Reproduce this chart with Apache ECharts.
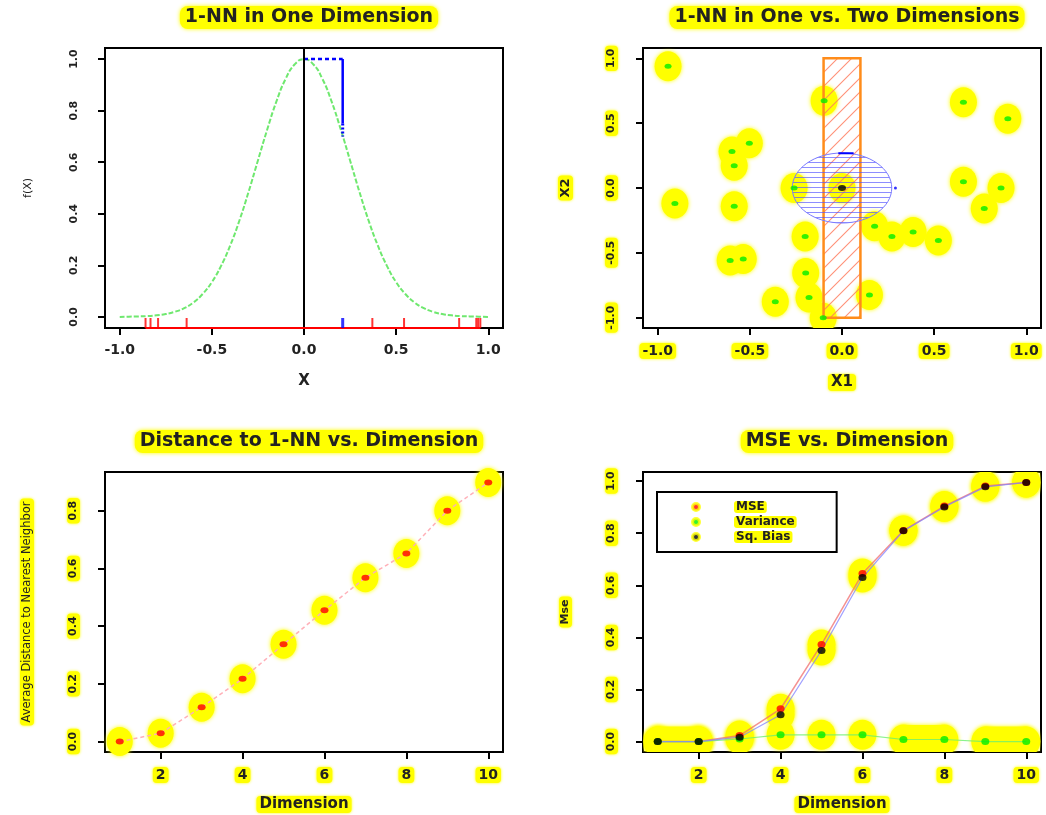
<!DOCTYPE html>
<html><head><meta charset="utf-8">
<script src="https://cdn.jsdelivr.net/npm/echarts@6/dist/echarts.min.js"></script>
<style>html,body{margin:0;padding:0;background:#fff}#c{width:1046px;height:815px}</style>
</head><body><div id="c"></div>
<script>
// ---------- Panel 1: 1-NN in One Dimension ----------
const curveX = [-1.0,-0.95,-0.9,-0.85,-0.8,-0.75,-0.7,-0.65,-0.6,-0.55,-0.5,-0.45,-0.4,-0.35,-0.3,-0.25,-0.2,-0.15,-0.1,-0.05,0,
                0.05,0.1,0.15,0.2,0.25,0.3,0.35,0.4,0.45,0.5,0.55,0.6,0.65,0.7,0.75,0.8,0.85,0.9,0.95,1.0];
const curveY = [0.0,0.001,0.002,0.003,0.006,0.011,0.02,0.034,0.056,0.089,0.135,0.198,0.278,0.375,0.487,0.607,0.726,0.835,0.923,0.98,1.0,
                0.98,0.923,0.835,0.726,0.607,0.487,0.375,0.278,0.198,0.135,0.089,0.056,0.034,0.02,0.011,0.006,0.003,0.002,0.001,0.0];
const rugRed = [-0.86,-0.833,-0.792,-0.637,0.371,0.543,0.842,0.935,0.945,0.957];
const rugBlue = [0.21];
const nnHorizX = [0.0, 0.21];
const nnHorizY = [1.0, 1.0];
const nnVertX = [0.21, 0.21, 0.21];
const nnVertY = [1.0, 0.75, 0.70];
const x1Range = [-1.08, 1.08];
const y1Range = [-0.043, 1.043];
const x1Ticks = [-1.0, -0.5, 0.0, 0.5, 1.0];
const y1Ticks = [0.0, 0.2, 0.4, 0.6, 0.8, 1.0];

// ---------- Panel 2: 1-NN in One vs. Two Dimensions ----------
const ptsX2 = [-0.944,-0.097,0.659,0.90,-0.503,-0.597,-0.585,-0.26,0.659,0.863,-0.907,-0.585,0.772,0.177,-0.20,0.271,0.386,0.523,-0.607,-0.536,-0.197,-0.179,-0.362,0.149,-0.102];
const ptsY2 = [0.94,0.674,0.661,0.534,0.345,0.281,0.172,0.0,0.048,0.0,-0.12,-0.141,-0.159,-0.296,-0.374,-0.374,-0.34,-0.405,-0.56,-0.547,-0.656,-0.845,-0.878,-0.826,-1.0];
const queryPt = [0.0, 0.0];
const slabX = [-0.1, 0.1];
const slabY = [-1.0, 1.0];
const ballR = 0.27;
const blueDashX = [-0.02, 0.063];
const blueDashY = [0.268, 0.268];
const blueDot = [0.29, 0.0];
const x2Range = [-1.08, 1.08];
const y2Range = [-1.08, 1.08];
const x2Ticks = [-1.0, -0.5, 0.0, 0.5, 1.0];
const y2Ticks = [-1.0, -0.5, 0.0, 0.5, 1.0];

// ---------- Panel 3: Distance to 1-NN vs. Dimension ----------
const dims = [1,2,3,4,5,6,7,8,9,10];
const nnDist = [0.0,0.029,0.119,0.218,0.337,0.455,0.568,0.652,0.80,0.898];
const dimRange = [0.64, 10.36];
const y3Range = [-0.036, 0.934];
const dimTicks = [2,4,6,8,10];
const y3Ticks = [0.0,0.2,0.4,0.6,0.8];

// ---------- Panel 4: MSE vs. Dimension ----------
const mse = [0.0,0.0,0.023,0.126,0.373,0.645,0.81,0.904,0.981,0.995];
const variance = [0.0,0.0,0.01,0.026,0.026,0.026,0.008,0.008,0.0,0.0];
const sqBias = [0.0,0.0,0.017,0.103,0.35,0.63,0.809,0.901,0.978,0.995];
const haloBands = [[1, 2, 0.0], [7, 8, 0.006], [9, 10, 0.0]];
const y4Range = [-0.04, 1.035];
const y4Ticks = [0.0,0.2,0.4,0.6,0.8,1.0];

const titles = ['1-NN in One Dimension','1-NN in One vs. Two Dimensions','Distance to 1-NN vs. Dimension','MSE vs. Dimension'];

// ---------- helpers ----------
const FONT = 'DejaVu Sans';
const YEL = '#ffff00';
const zip = (a, b) => a.map((v, i) => [v, b[i]]);

function pattern(kind) {
  const c = document.createElement('canvas');
  const g = c.getContext('2d');
  if (kind === 'diag') {
    const s = 14;
    c.width = s; c.height = s;
    g.strokeStyle = 'rgba(255,125,95,0.85)'; g.lineWidth = 1.1;
    g.beginPath();
    g.moveTo(0, s); g.lineTo(s, 0);
    g.moveTo(-s / 2, s / 2); g.lineTo(s / 2, -s / 2);
    g.moveTo(s / 2, s * 1.5); g.lineTo(s * 1.5, s / 2);
    g.stroke();
  } else {
    c.width = 8; c.height = 5;
    g.strokeStyle = 'rgba(80,80,255,0.65)'; g.lineWidth = 1;
    g.beginPath(); g.moveTo(0, 2.5); g.lineTo(8, 2.5); g.stroke();
  }
  return { image: c, repeat: 'repeat' };
}

const hl = { backgroundColor: YEL, padding: [1, 3], borderRadius: 4, shadowBlur: 3, shadowColor: YEL };
const fmt1 = v => (Math.abs(v) < 1e-9 ? 0 : v).toFixed(1);
const fmt0 = v => String(Math.round(v));

function xAx(gi, range, ticks, fmt, high, name, nameGap, nameHigh) {
  return {
    type: 'value', gridIndex: gi, min: range[0], max: range[1],
    axisLine: { show: false, onZero: false },
    splitLine: { show: false },
    axisTick: { show: true, length: 7, lineStyle: { color: '#000', width: 2 }, customValues: ticks },
    axisLabel: Object.assign({ customValues: ticks, formatter: fmt, margin: 15, color: '#222',
      fontFamily: FONT, fontWeight: 'bold', fontSize: 14 }, high ? hl : {}),
    name: name, nameLocation: 'middle', nameGap: nameGap,
    nameTextStyle: Object.assign({ color: '#222', fontFamily: FONT, fontWeight: 'bold', fontSize: 15 }, nameHigh ? hl : {})
  };
}
function yAx(gi, range, ticks, high, name, nameGap, nameStyle) {
  return {
    type: 'value', gridIndex: gi, min: range[0], max: range[1],
    axisLine: { show: false, onZero: false },
    splitLine: { show: false },
    axisTick: { show: true, length: 7, lineStyle: { color: '#000', width: 2 }, customValues: ticks },
    axisLabel: Object.assign({ customValues: ticks, formatter: fmt1, margin: 25, rotate: 90, color: '#222',
      fontFamily: FONT, fontWeight: 'bold', fontSize: 11 }, high ? hl : {}),
    name: name, nameLocation: 'middle', nameGap: nameGap,
    nameTextStyle: Object.assign({ color: '#222', fontFamily: FONT }, nameStyle)
  };
}
function halo(gi, pts, rx, ry, clip) {
  return {
    type: 'custom', xAxisIndex: gi, yAxisIndex: gi, data: pts, clip: clip, silent: true, z: 1,
    encode: { x: 0, y: 1 },
    renderItem: (p, api) => {
      const c = api.coord([api.value(0), api.value(1)]);
      return { type: 'ellipse', shape: { cx: c[0], cy: c[1], rx: rx, ry: ry },
        style: { fill: YEL, shadowBlur: 4, shadowColor: YEL } };
    }
  };
}
function dots(gi, pts, color, size, name) {
  return { type: 'scatter', name: name, xAxisIndex: gi, yAxisIndex: gi, data: pts, symbol: 'circle',
    symbolSize: size, itemStyle: { color: color }, z: 5, silent: true };
}

const grids = [
  { left: 105, top: 48, width: 398, height: 280 },
  { left: 643, top: 48, width: 398, height: 280 },
  { left: 105, top: 472, width: 398, height: 280 },
  { left: 643, top: 472, width: 398, height: 280 }
].map(g => Object.assign(g, { show: true, borderColor: '#000', borderWidth: 2, backgroundColor: 'transparent', outerBoundsMode: 'none', containLabel: false }));

const titleCenters = [[304, 6], [842, 6], [304, 430], [842, 430]];

const pts2 = zip(ptsX2, ptsY2);
const pts3 = zip(dims, nnDist);
const mseP = zip(dims, mse), varP = zip(dims, variance), biasP = zip(dims, sqBias);

const option = {
  animation: false,
  backgroundColor: '#ffffff',
  title: titles.map((t, i) => ({
    text: t, left: titleCenters[i][0], top: titleCenters[i][1], textAlign: 'center',
    padding: [2, 5], backgroundColor: YEL, borderRadius: 8, shadowBlur: 4, shadowColor: YEL,
    textStyle: { fontFamily: FONT, fontWeight: 'bold', fontSize: 19, color: '#222' }
  })),
  legend: {
    show: true, orient: 'vertical', left: 657, top: 492, selectedMode: false,
    borderColor: '#000', borderWidth: 2, padding: [9, 40, 9, 34], itemGap: 3,
    itemWidth: 66, itemHeight: 7,
    textStyle: { fontFamily: FONT, fontWeight: 'bold', fontSize: 12, color: '#222', backgroundColor: YEL, padding: [0, 2], borderRadius: 3 },
    data: [
      { name: 'MSE', icon: 'circle', itemStyle: { color: '#ff0000', borderColor: YEL, borderWidth: 3 } },
      { name: 'Variance', icon: 'circle', itemStyle: { color: '#00ee00', borderColor: YEL, borderWidth: 3 } },
      { name: 'Sq. Bias', icon: 'circle', itemStyle: { color: '#000000', borderColor: YEL, borderWidth: 3 } }
    ]
  },
  grid: grids,
  xAxis: [
    xAx(0, x1Range, x1Ticks, fmt1, false, 'X', 46, false),
    xAx(1, x2Range, x2Ticks, fmt1, true, 'X1', 46, true),
    xAx(2, dimRange, dimTicks, fmt0, true, 'Dimension', 44, true),
    xAx(3, dimRange, dimTicks, fmt0, true, 'Dimension', 44, true)
  ],
  yAxis: [
    yAx(0, y1Range, y1Ticks, false, 'f(X)', 71, { fontSize: 11 }),
    yAx(1, y2Range, y2Ticks, true, 'X2', 70, Object.assign({ fontSize: 13, fontWeight: 'bold' }, hl)),
    yAx(2, y3Range, y3Ticks, true, 'Average Distance to Nearest Neighbor', 71, Object.assign({ fontSize: 11.5 }, hl)),
    yAx(3, y4Range, y4Ticks, true, 'Mse', 71, Object.assign({ fontSize: 11, fontWeight: 'bold' }, hl))
  ],
  series: [
    // ----- panel 1 -----
    { type: 'line', xAxisIndex: 0, yAxisIndex: 0, data: zip(curveX, curveY), smooth: true, symbol: 'none', silent: true, z: 3,
      lineStyle: { color: '#6fe86f', width: 2, type: [5, 2] },
      markLine: { silent: true, symbol: 'none', label: { show: false }, animation: false,
        lineStyle: { color: '#000', width: 2, type: 'solid' }, data: [{ xAxis: 0 }] } },
    { type: 'line', xAxisIndex: 0, yAxisIndex: 0, data: zip(nnHorizX, nnHorizY), symbol: 'none', silent: true, z: 4,
      lineStyle: { color: '#0000ff', width: 2.5, type: [4, 3] } },
    { type: 'line', xAxisIndex: 0, yAxisIndex: 0, data: zip(nnVertX.slice(0, 2), nnVertY.slice(0, 2)), symbol: 'none', silent: true, z: 4,
      lineStyle: { color: '#0000ff', width: 2.5 } },
    { type: 'line', xAxisIndex: 0, yAxisIndex: 0, data: zip(nnVertX.slice(1), nnVertY.slice(1)), symbol: 'none', silent: true, z: 4,
      lineStyle: { color: '#0000ff', width: 3, type: [2, 2] } },
    { type: 'line', xAxisIndex: 0, yAxisIndex: 0, clip: false, silent: true, symbol: 'none', z: 6,
      data: [[rugRed[0], y1Range[0]], [rugRed[rugRed.length - 1], y1Range[0]]],
      lineStyle: { color: '#ff0000', width: 2 } },
    { type: 'scatter', xAxisIndex: 0, yAxisIndex: 0, clip: false, silent: true, z: 6,
      data: rugRed.map(v => [v, y1Range[0]]), symbol: 'rect', symbolSize: [2, 10], symbolOffset: [0, -5],
      itemStyle: { color: '#ff0000' } },
    { type: 'scatter', xAxisIndex: 0, yAxisIndex: 0, clip: false, silent: true, z: 6,
      data: rugBlue.map(v => [v, y1Range[0]]), symbol: 'rect', symbolSize: [3, 10], symbolOffset: [0, -5],
      itemStyle: { color: '#0000ff' } },

    // ----- panel 2 -----
    halo(1, pts2.concat([queryPt]), 13.5, 15, true),
    { type: 'custom', xAxisIndex: 1, yAxisIndex: 1, silent: true, z: 2, clip: false,
      data: [[slabX[0], slabY[0], slabX[1], slabY[1]]], encode: { x: [0, 2], y: [1, 3] },
      renderItem: (p, api) => {
        const a = api.coord([api.value(0), api.value(3)]);
        const b = api.coord([api.value(2), api.value(1)]);
        return { type: 'rect', shape: { x: a[0], y: a[1], width: b[0] - a[0], height: b[1] - a[1] },
          style: { fill: pattern('diag'), stroke: '#ff8c1a', lineWidth: 2.5 } };
      } },
    { type: 'custom', xAxisIndex: 1, yAxisIndex: 1, silent: true, z: 3, clip: false,
      data: [[queryPt[0], queryPt[1], ballR]], encode: { x: 0, y: 1 },
      renderItem: (p, api) => {
        const c = api.coord([api.value(0), api.value(1)]);
        const r = api.value(2);
        const rx = api.size([r, 0])[0], ry = api.size([0, r])[1];
        return { type: 'ellipse', shape: { cx: c[0], cy: c[1], rx: rx, ry: ry },
          style: { fill: pattern('horiz'), stroke: '#7a7aff', lineWidth: 1 } };
      } },
    { type: 'line', xAxisIndex: 1, yAxisIndex: 1, data: zip(blueDashX, blueDashY), symbol: 'none', silent: true, z: 4,
      lineStyle: { color: '#0000ff', width: 2 } },
    dots(1, [blueDot], '#0000ff', 3),
    dots(1, pts2, '#00ee00', [7, 5]),
    dots(1, [queryPt], '#000000', [8, 6]),

    // ----- panel 3 -----
    halo(2, pts3, 13, 14.5, false),
    { type: 'line', xAxisIndex: 2, yAxisIndex: 2, data: pts3, symbol: 'none', silent: true, z: 3,
      lineStyle: { color: '#ffb0b8', width: 1.5, type: [4, 3] } },
    dots(2, pts3, '#ff0000', [8, 6]),

    // ----- panel 4 -----
    halo(3, mseP.concat(varP, biasP), 14, 15, true),
    { type: 'custom', xAxisIndex: 3, yAxisIndex: 3, silent: true, z: 1, clip: true,
      data: haloBands, encode: { x: [0, 1], y: 2 },
      renderItem: (p, api) => {
        const a = api.coord([api.value(0), api.value(2)]);
        const b = api.coord([api.value(1), api.value(2)]);
        return { type: 'rect', shape: { x: a[0] - 11, y: a[1] - 15, width: b[0] - a[0] + 22, height: 30, r: 12 },
          style: { fill: YEL, shadowBlur: 4, shadowColor: YEL } };
      } },
    { type: 'line', xAxisIndex: 3, yAxisIndex: 3, data: mseP, symbol: 'none', silent: true, z: 3,
      lineStyle: { color: 'rgba(240,110,110,0.75)', width: 1.5 } },
    { type: 'line', xAxisIndex: 3, yAxisIndex: 3, data: varP, symbol: 'none', silent: true, z: 3,
      lineStyle: { color: 'rgba(110,240,110,0.8)', width: 1.2 } },
    { type: 'line', xAxisIndex: 3, yAxisIndex: 3, data: biasP, symbol: 'none', silent: true, z: 3,
      lineStyle: { color: 'rgba(130,130,255,0.75)', width: 1.2 } },
    dots(3, mseP, '#ff0000', [8, 7], 'MSE'),
    dots(3, varP, '#00ee00', [8, 7], 'Variance'),
    dots(3, biasP, '#000000', [8, 7], 'Sq. Bias')
  ]
};

const chart = echarts.init(document.getElementById('c'), null, { renderer: 'canvas' });
chart.setOption(option);
</script>
</body></html>
